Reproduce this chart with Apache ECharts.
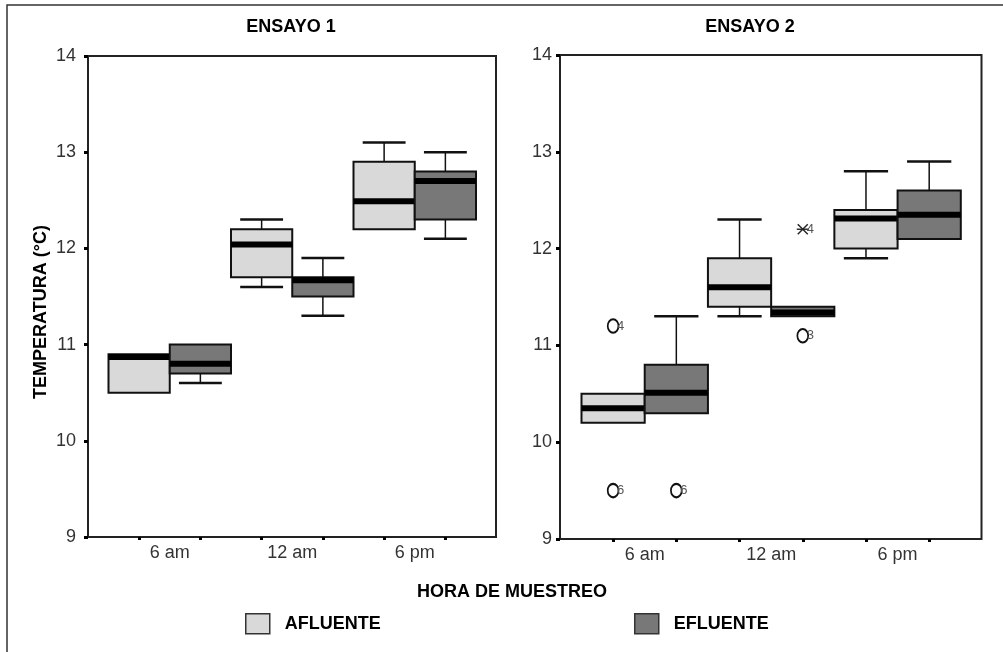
<!DOCTYPE html>
<html>
<head>
<meta charset="utf-8">
<title>Temperatura por hora de muestreo</title>
<script src="https://cdn.jsdelivr.net/npm/echarts@6/dist/echarts.min.js"></script>
<style>
  html, body { margin: 0; padding: 0; background: #fff; }
  #chart { width: 1003px; height: 652px; }
</style>
</head>
<body>
<div id="chart"></div>
<script>
// Sampling hours and the two sampling points
const categories = ['6 am', '12 am', '6 pm'];
const groups = ['AFLUENTE', 'EFLUENTE'];
const tempTicks = [9, 10, 11, 12, 13, 14];

// Five-number summaries per hour: [min, Q1, median, Q3, max] (°C)
const ensayo1Afluente = [[10.5, 10.5, 10.87, 10.9, 10.9], [11.6, 11.7, 12.04, 12.2, 12.3], [12.2, 12.2, 12.49, 12.9, 13.1]];
const ensayo1Efluente = [[10.6, 10.7, 10.8, 11.0, 11.0], [11.3, 11.5, 11.67, 11.7, 11.9], [12.1, 12.3, 12.7, 12.8, 13.0]];
const ensayo2Afluente = [[10.2, 10.2, 10.35, 10.5, 10.5], [11.3, 11.4, 11.6, 11.9, 12.3], [11.9, 12.0, 12.31, 12.4, 12.8]];
const ensayo2Efluente = [[10.3, 10.3, 10.51, 10.8, 11.3], [11.3, 11.3, 11.34, 11.4, 11.4], [12.1, 12.1, 12.35, 12.6, 12.9]];

// Ensayo 2 outlying cases (hour index, group index, value, case number, marker)
const outlierHour = [0, 0, 0, 1, 1];
const outlierGroup = [0, 0, 1, 1, 1];
const outlierValue = [11.2, 9.5, 9.5, 12.2, 11.1];
const outlierCase = ['4', '6', '6', '4', '3'];
const outlierMark = ['o', 'o', 'o', '*', 'o'];

const FONT = "'Liberation Sans', Arial, sans-serif";
const groupColors = ['#d9d9d9', '#787878'];
const INK = '#111';

// one band per box: hour i, group s -> 2*i + s
const subBands = [];
categories.forEach(c => groups.forEach(g => subBands.push(c + ' ' + g)));

function boxRows(summary, g) {
  return summary.map((s, i) => [2 * i + g].concat(s));
}

function renderBox(params, api) {
  const x = api.value(0);
  const w = api.size([1, 0])[0];
  const cx = api.coord([x, 0])[0];
  const yMin = api.coord([x, api.value(1)])[1];
  const yQ1 = api.coord([x, api.value(2)])[1];
  const yMed = api.coord([x, api.value(3)])[1];
  const yQ3 = api.coord([x, api.value(4)])[1];
  const yMax = api.coord([x, api.value(5)])[1];
  const capW = w * 0.7;
  const children = [];
  const lineStyle = { stroke: INK, lineWidth: 1.5 };
  if (yMax < yQ3 - 0.5) {
    children.push({ type: 'line', shape: { x1: cx, y1: yQ3, x2: cx, y2: yMax }, style: lineStyle });
    children.push({ type: 'line', shape: { x1: cx - capW / 2, y1: yMax, x2: cx + capW / 2, y2: yMax }, style: { stroke: INK, lineWidth: 2.5 } });
  }
  if (yMin > yQ1 + 0.5) {
    children.push({ type: 'line', shape: { x1: cx, y1: yQ1, x2: cx, y2: yMin }, style: lineStyle });
    children.push({ type: 'line', shape: { x1: cx - capW / 2, y1: yMin, x2: cx + capW / 2, y2: yMin }, style: { stroke: INK, lineWidth: 2.5 } });
  }
  children.push({
    type: 'rect',
    shape: { x: cx - w / 2, y: yQ3, width: w, height: yQ1 - yQ3 },
    style: { fill: api.visual('color'), stroke: INK, lineWidth: 2 }
  });
  children.push({
    type: 'rect',
    shape: { x: cx - w / 2, y: yMed - 3, width: w, height: 6 },
    style: { fill: '#000' }
  });
  return { type: 'group', children: children };
}

function renderOutlier(params, api) {
  const i = params.dataIndex;
  const p = api.coord([api.value(0), api.value(1)]);
  const children = [];
  if (outlierMark[i] === '*') {
    const r = 5;
    const st = { stroke: '#222', lineWidth: 1.4 };
    children.push({ type: 'line', shape: { x1: p[0] - r, y1: p[1] - r, x2: p[0] + r, y2: p[1] + r }, style: st });
    children.push({ type: 'line', shape: { x1: p[0] - r, y1: p[1] + r, x2: p[0] + r, y2: p[1] - r }, style: st });
    children.push({ type: 'line', shape: { x1: p[0] - r - 1, y1: p[1], x2: p[0] + r + 1, y2: p[1] }, style: st });
  } else {
    children.push({
      type: 'circle', x: p[0], y: p[1], scaleY: 1.25,
      shape: { cx: 0, cy: 0, r: 5.4 },
      style: { fill: 'none', stroke: '#111', lineWidth: 1.7 }
    });
  }
  children.push({
    type: 'text', x: p[0] + 4, y: p[1],
    style: { text: outlierCase[i], font: '13px ' + FONT, fill: '#555', verticalAlign: 'middle', align: 'left' }
  });
  return { type: 'group', children: children };
}

function frameGrid(left, top, width, height) {
  return { left: left, top: top, width: width, height: height, show: true, borderColor: '#222', borderWidth: 2, backgroundColor: 'transparent' };
}
function tickAxis(grid) {
  return {
    gridIndex: grid, type: 'category', data: subBands, position: 'bottom',
    axisLine: { show: false },
    axisTick: { show: true, alignWithLabel: true, interval: 0, length: 3, lineStyle: { width: 3, color: '#000' } },
    axisLabel: { show: false }, splitLine: { show: false }
  };
}
function labelAxis(grid) {
  return {
    gridIndex: grid, type: 'category', data: categories, position: 'bottom',
    axisLine: { show: false }, axisTick: { show: false }, splitLine: { show: false },
    axisLabel: { interval: 0, fontSize: 18, color: '#333', margin: 7, fontFamily: FONT }
  };
}
function tempAxis(grid, margin) {
  return {
    gridIndex: grid, type: 'value', min: tempTicks[0], max: tempTicks[tempTicks.length - 1], interval: 1,
    axisLine: { show: false },
    axisTick: { show: true, length: 4, lineStyle: { width: 3, color: '#000' } },
    splitLine: { show: false },
    axisLabel: { fontSize: 18, color: '#333', margin: margin, fontFamily: FONT }
  };
}
function hiddenTempAxis(grid) {
  return { gridIndex: grid, type: 'value', min: tempTicks[0], max: tempTicks[tempTicks.length - 1], interval: 1, show: false };
}
function boxSeries(g, data, xIdx, yIdx) {
  return {
    type: 'custom', name: groups[g], xAxisIndex: xIdx, yAxisIndex: yIdx,
    itemStyle: { color: groupColors[g] },
    renderItem: renderBox, encode: { x: 0, y: [1, 2, 3, 4, 5] },
    data: data, z: 3
  };
}

const outlierData = outlierValue.map((v, i) => [2 * outlierHour[i] + outlierGroup[i], v]);

const legendText = { fontSize: 18, fontWeight: 'bold', color: '#000', fontFamily: FONT, padding: [0, 0, 0, 10] };

const option = {
  animation: false,
  backgroundColor: '#fff',
  textStyle: { fontFamily: FONT },
  grid: [
    frameGrid(88, 56, 408, 481),
    { left: 108.5, top: 56, width: 367.5, height: 481 },
    frameGrid(560, 55, 421.5, 484),
    { left: 581.5, top: 55, width: 379.3, height: 484 }
  ],
  xAxis: [
    { gridIndex: 0, type: 'value', show: false, min: 0, max: 1 },
    tickAxis(1),
    labelAxis(1),
    { gridIndex: 2, type: 'value', show: false, min: 0, max: 1 },
    tickAxis(3),
    labelAxis(3)
  ],
  yAxis: [
    tempAxis(0, 12),
    hiddenTempAxis(1),
    tempAxis(2, 8),
    hiddenTempAxis(3)
  ],
  legend: [
    {
      left: 245, top: 613, padding: 0, itemWidth: 24, itemHeight: 20, icon: 'rect',
      selectedMode: false, textStyle: legendText,
      data: [{ name: groups[0], itemStyle: { color: groupColors[0], borderColor: '#333', borderWidth: 1.5 } }]
    },
    {
      left: 634, top: 613, padding: 0, itemWidth: 24, itemHeight: 20, icon: 'rect',
      selectedMode: false, textStyle: legendText,
      data: [{ name: groups[1], itemStyle: { color: groupColors[1], borderColor: '#333', borderWidth: 1.5 } }]
    }
  ],
  graphic: [
    { type: 'rect', shape: { x: 7, y: 5, width: 1010, height: 660 }, style: { fill: 'none', stroke: '#333', lineWidth: 1.5 }, silent: true },
    { type: 'text', x: 291, y: 27, style: { text: 'ENSAYO 1', font: 'bold 18px ' + FONT, fill: '#000', align: 'center', verticalAlign: 'middle' } },
    { type: 'text', x: 750, y: 27, style: { text: 'ENSAYO 2', font: 'bold 18px ' + FONT, fill: '#000', align: 'center', verticalAlign: 'middle' } },
    { type: 'text', x: 41, y: 312, rotation: Math.PI / 2, style: { text: 'TEMPERATURA (°C)', font: 'bold 18px ' + FONT, fill: '#000', align: 'center', verticalAlign: 'middle' } },
    { type: 'text', x: 512, y: 592, style: { text: 'HORA DE MUESTREO', font: 'bold 18px ' + FONT, fill: '#000', align: 'center', verticalAlign: 'middle' } }
  ],
  series: [
    boxSeries(0, boxRows(ensayo1Afluente, 0), 1, 1),
    boxSeries(1, boxRows(ensayo1Efluente, 1), 1, 1),
    boxSeries(0, boxRows(ensayo2Afluente, 0), 4, 3),
    boxSeries(1, boxRows(ensayo2Efluente, 1), 4, 3),
    {
      type: 'custom', name: 'casos', xAxisIndex: 4, yAxisIndex: 3,
      renderItem: renderOutlier, encode: { x: 0, y: 1 }, data: outlierData, z: 4
    }
  ]
};

const chart = echarts.init(document.getElementById('chart'), null, { renderer: 'canvas' });
chart.setOption(option);
</script>
</body>
</html>
